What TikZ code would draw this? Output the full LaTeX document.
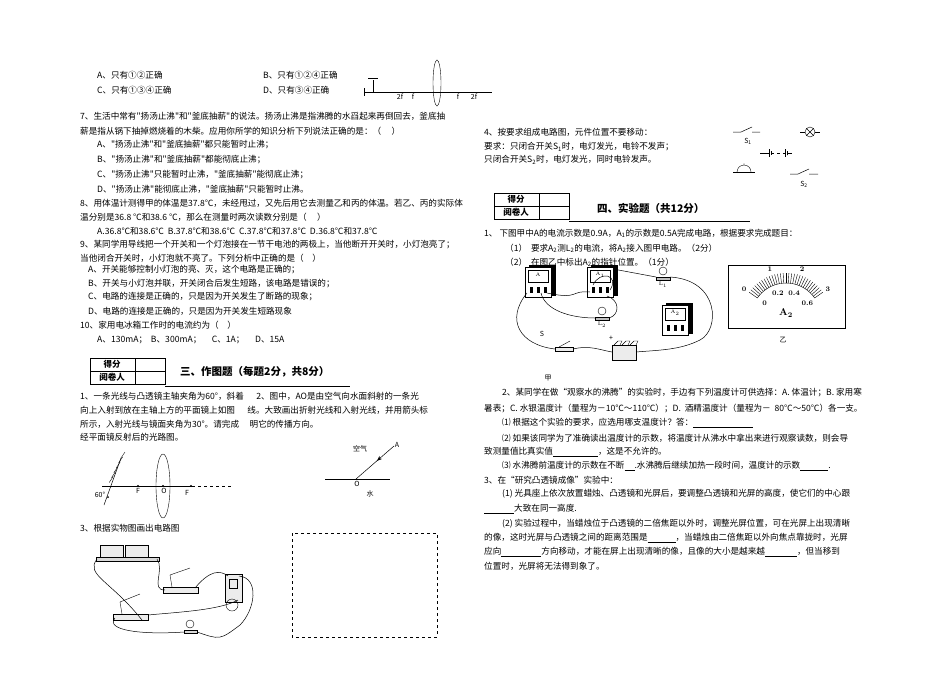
\documentclass[tikz,border=0pt]{standalone}
\usepackage{fontspec}
\newfontfamily\cjk{Noto Sans CJK SC}
\usetikzlibrary{arrows.meta,decorations.markings,calc}
\tikzset{
  txt/.style={anchor=west,inner sep=0pt,font=\cjk\fontsize{8.6}{10}\selectfont},
  head/.style={anchor=west,inner sep=0pt,font=\cjk\bfseries\fontsize{10.5}{12}\selectfont},
  small/.style={inner sep=0pt,font=\cjk\fontsize{7}{8}\selectfont},
  wire/.style={line width=0.5pt},
  meter/.style={draw,fill=gray!15,line width=0.6pt},
}
\newcommand{\scorebox}[2]{% table at (x,y)
  \draw (#1,#2) rectangle ++(75,26) (#1,#2+13) -- ++(75,0) (#1+45,#2) -- ++(0,26);
  \node[small,font=\cjk\bfseries\fontsize{8.5}{9}\selectfont] at (#1+22,#2+6.5) {得分};
  \node[small,font=\cjk\bfseries\fontsize{8.5}{9}\selectfont] at (#1+22,#2+19.5) {阅卷人};}
\begin{document}
\begin{tikzpicture}[x=1pt,y=-1pt]
\useasboundingbox (0,0) rectangle (950,675);

% left column text
\node[txt] (a6) at (97,75) {A、只有①②正确};
\node[txt] (b6) at (263,75) {B、只有①②④正确};
\node[txt] (c6) at (97,90) {C、只有①③④正确};
\node[txt] (d6) at (263,90) {D、只有③④正确};
\node[txt] (q7) at (80,116) {7、生活中常有"扬汤止沸"和"釜底抽薪"的说法。扬汤止沸是指沸腾的水舀起来再倒回去，釜底抽};
\node[txt] at (80,131) {薪是指从锅下抽掉燃烧着的木柴。应用你所学的知识分析下列说法正确的是：（\quad\ ）};
\node[txt] at (97,145) {A、"扬汤止沸"和"釜底抽薪"都只能暂时止沸；};
\node[txt] at (97,160) {B、"扬汤止沸"和"釜底抽薪"都能彻底止沸；};
\node[txt] at (97,175) {C、"扬汤止沸"只能暂时止沸，"釜底抽薪"能彻底止沸；};
\node[txt] at (97,189) {D、"扬汤止沸"能彻底止沸，"釜底抽薪"只能暂时止沸。};
\node[txt] at (80,203) {8、用体温计测得甲的体温是37.8℃，未经甩过，又先后用它去测量乙和丙的体温。若乙、丙的实际体};
\node[txt] at (80,217) {温分别是36.8 ℃和38.6 ℃，那么在测量时两次读数分别是（\quad\ ）};
\node[txt] at (97,231) {A.36.8℃和38.6℃\ \ B.37.8℃和38.6℃\ \ C.37.8℃和37.8℃\ \ D.36.8℃和37.8℃};
\node[txt] at (80,245) {9、某同学用导线把一个开关和一个灯泡接在一节干电池的两极上，当他断开开关时，小灯泡亮了；};
\node[txt] at (80,258) {当他闭合开关时，小灯泡就不亮了。下列分析中正确的是（\quad ）};
\node[txt] at (88,270) {A、开关能够控制小灯泡的亮、灭，这个电路是正确的；};
\node[txt] at (88,284) {B、开关与小灯泡并联，开关闭合后发生短路，该电路是错误的；};
\node[txt] at (88,297) {C、电路的连接是正确的，只是因为开关发生了断路的现象；};
\node[txt] at (88,311) {D、电路的连接是正确的，只是因为开关发生短路现象};
\node[txt] at (80,325) {10、家用电冰箱工作时的电流约为（\quad ）};
\node[txt] at (97,340) {A、130mA；\ \ B、300mA；\quad\ C、1A；\quad\ D、15A};

\scorebox{90}{358}
\node[head] (t3) at (180,372) {三、作图题（每题2分，共8分）};
\draw (165,386) -- (350,386);
\node[txt] at (80,396) {1、一条光线与凸透镜主轴夹角为60°，斜着\quad\ \ 2、图中，AO是由空气向水面斜射的一条光};
\node[txt] at (80,410) {向上入射到放在主轴上方的平面镜上如图\quad\ \ 线。大致画出折射光线和入射光线，并用箭头标};
\node[txt] at (80,424) {所示，入射光线与镜面夹角为30°。请完成\quad\ 明它的传播方向。};
\node[txt] at (80,437) {经平面镜反射后的光路图。};
\node[txt] at (80,528) {3、根据实物图画出电路图};

% lens figure at top
\draw[wire] (364,92) -- (492,92) (364,88) -- (364,96);
\draw (437,83) ellipse (4 and 23);
\draw (373,92) -- (373,80) (368,78) -- (378,78);
\foreach \x/\t in {400/2f,413/f,458/f,474/2f} \node[small] at (\x,97) {\t};

% optics 1
\draw[wire] (102,486) -- (192,486);
\draw[wire,dashed] (192,486) -- (232,486);
\draw (163,486) ellipse (7 and 32);
\node[small] (f1) at (138,491) {F};
\node[small] (f2) at (187,493) {F};
\node[small] (o1) at (164,491) {O};
\fill (138,486) circle (1.2) (191,486) circle (1.2) (163,486) circle (1.2);
\draw[wire] (104,505) -- (121,458);
\foreach \k in {0,...,5} \draw ($(121,458)!\k/5.5!(108,485)$) -- ++(4,-6);
\node[small] at (100,495) {60°};
\fill (108,497) circle (1);

% optics 2
\draw[wire] (325,479) -- (390,479);
\node[small] (o2) at (357,484) {O};
\node[small] (pa) at (397,445) {A};
\node[small] at (360,449) {空气};
\node[small] at (370,494) {水};
\draw[wire,postaction={decorate},decoration={markings,mark=at position 0.45 with {\arrow{Stealth}}}] (394,446) -- (356,479);

% answer box
\draw[dashed] (292,533) rectangle (437,637);

% real circuit 3
\draw[meter] (100,545) rectangle (123,557) (125,545) rectangle (148,557);
\draw[fill=gray!30] (96,557) rectangle (159,561);
\draw[meter] (163,587) rectangle (198,593);
\draw (172,587) -- (170,575) -- (190,568);
\draw[meter] (113,614) rectangle (148,620);
\draw (122,614) -- (120,602) -- (140,594);
\draw[meter] (225,574) rectangle (242,602);
\draw (229,579) rectangle (237,588);
\draw (232,605) circle (6);
\draw (190,624) circle (4);
\draw[fill=gray!30] (184,630) rectangle (197,633);
\draw[wire] (97,559) .. controls (85,575) and (110,580) .. (142,620);
\draw[wire] (157,559) .. controls (165,570) and (150,590) .. (165,590);
\draw[wire] (195,588) .. controls (210,570) and (220,570) .. (228,576);
\draw[wire] (239,576) .. controls (260,578) and (255,610) .. (240,625) .. controls (220,640) .. (197,632);
\draw[wire] (148,615) .. controls (180,612) and (220,610) .. (238,600);
\draw[wire] (115,618) .. controls (105,630) and (140,635) .. (184,632);

% right column
\node[txt] at (484,132) {4、按要求组成电路图，元件位置不要移动：};
\node[txt] at (484,147) {要求：只闭合开关S\textsubscript{1}时，电灯发光，电铃不发声；};
\node[txt] at (484,160) {只闭合开关S\textsubscript{2}时，电灯发光，同时电铃发声。};
% symbols
\draw[wire] (733,132) -- (741,132) -- (752,127) (752,132) -- (760,132);
\node[small] (s1) at (748,141) {S\textsubscript{1}};
\draw[wire] (800,132) -- (805,132) (815,132) -- (820,132);
\draw (810,132) circle (5) (806.5,128.5) -- (813.5,135.5) (806.5,135.5) -- (813.5,128.5);
\draw[wire] (760,153) -- (769,153) (769,149) -- (769,157) (771,151) -- (771,155);
\draw[wire,dashed] (771,153) -- (785,153);
\draw[wire] (785,149) -- (785,157) (787,151) -- (787,155) -- (787,153) -- (792,153);
\draw[wire] (733,172) -- (755,172);
\draw (737,172) arc (180:360:7) (744,165) -- (744,163);
\draw[wire] (790,174) -- (798,174) -- (809,169) (809,174) -- (818,174);
\node[small] (s2) at (804,184) {S\textsubscript{2}};

\scorebox{494}{193}
\node[head] (t4) at (597,208) {四、实验题（共12分）};
\draw (569,221) -- (750,221);
\node[txt] at (484,233) {1、\ 下图甲中A的电流示数是0.9A，A\textsubscript{1}的示数是0.5A完成电路，根据要求完成题目：};
\node[txt] at (505,248) {（1）\ \ 要求A\textsubscript{2}测L\textsubscript{2}的电流，将A\textsubscript{2}接入图甲电路。（2分）};
\node[txt] at (505,262) {（2）\ \ 在图乙中标出A\textsubscript{2}的指针位置。（1分）};

% real circuit 1
\foreach \x/\y/\n/\lab in {525/267/ma/A, 587/267/mb/A\textsubscript{1}, 662/305/mc/A\textsubscript{2}} {
  \draw[fill=black] (\x+4,\y-2) rectangle (\x+30,\y+28);
  \draw[meter,fill=white] (\x,\y) rectangle (\x+26,\y+30);
  \draw (\x+3,\y+3) rectangle (\x+23,\y+15);
  \node[small,font=\fontsize{5}{6}\selectfont] (\n) at (\x+13,\y+8) {\lab};
  \foreach \d in {6,13,20} \fill (\x+\d-1.5,\y+20) rectangle (\x+\d+1.5,\y+26);
}
\foreach \x/\y/\n/\lab in {663/277/la/L\textsubscript{1}, 602/317/lb/L\textsubscript{2}} {
  \draw (\x,\y-6) circle (4);
  \draw[fill=gray!50] (\x-7,\y) rectangle (\x+7,\y+3);
  \node[small,font=\fontsize{5}{6}\selectfont] (\n) at (\x,\y+8) {\lab};
}
\draw[meter] (555,347) rectangle (573,351);
\draw (559,347) -- (570,341);
\node[small] (sw) at (542,334) {S};
\draw[meter] (612,345) rectangle (636,360);
\foreach \d in {0,8,16} \draw (614+\d,345) -- (618+\d,341) -- (622+\d,341) -- (620+\d,345);
\node[small] (pl) at (611,338) {+};
\node[small] (jia) at (548,378) {甲};
\draw[wire] (547,293) .. controls (580,300) and (570,290) .. (590,292);
\draw[wire] (593,285) .. controls (600,270) and (620,275) .. (610,290);
\draw[wire] (613,269) -- (656,277);
\draw[wire] (670,277) .. controls (720,280) and (720,330) .. (700,340) .. controls (680,350) and (660,350) .. (636,352);
\draw[wire] (541,293) .. controls (545,310) and (570,318) .. (595,318);
\draw[wire] (609,318) .. controls (620,315) and (620,300) .. (607,296);
\draw[wire] (527,293) .. controls (505,320) and (520,345) .. (555,349);
\draw[wire] (573,349) .. controls (590,345) and (600,350) .. (612,352);
% meter 乙
\draw[line width=0.8pt] (728,265) rectangle (845,328);
\foreach \a in {0,...,30} \draw ({786+45*cos(145-\a*110/30)},{318-45*sin(145-\a*110/30)}) -- ({786+35*cos(145-\a*110/30)},{318-35*sin(145-\a*110/30)});
\draw ({786+35*cos(145)},{318-35*sin(145)}) arc[start angle=-145,end angle=-35,radius=35];
\foreach \v/\a in {0/145,1/108.3,2/71.7,3/35} \node[small,font=\bfseries\fontsize{7}{8}\selectfont] at ({786+51*cos(\a)},{318-51*sin(\a)}) {\v};
\foreach \v/\a in {0/145,0.2/108.3,0.4/71.7,0.6/35} \node[small,font=\bfseries\fontsize{7}{8}\selectfont] at ({786+26*cos(\a)},{318-26*sin(\a)}) {\v};
\node[small,font=\bfseries\fontsize{10}{11}\selectfont] (a2) at (786,313) {A\textsubscript{2}};
\node[small] (yi) at (783,340) {乙};

\node[txt] at (502,393) {2、某同学在做“观察水的沸腾”的实验时，手边有下列温度计可供选择：A. 体温计；B. 家用寒};
\node[txt] at (484,409) {暑表；C. 水银温度计（量程为－10℃～110℃）；D.\ \ 酒精温度计（量程为－\ \ 80℃～50℃）各一支。};
\node[txt] at (502,423) {⑴ 根据这个实验的要求，应选用哪支温度计？答：\underline{\hspace{60pt}}};
\node[txt] at (502,438) {⑵ 如果该同学为了准确读出温度计的示数，将温度计从沸水中拿出来进行观察读数，则会导};
\node[txt] at (484,452) {致测量值比真实值\underline{\hspace{45pt}}，这是不允许的。};
\node[txt] at (502,466) {⑶ 水沸腾前温度计的示数在不断\underline{\hspace{10pt}}.水沸腾后继续加热一段时间，温度计的示数\underline{\hspace{28pt}}.};
\node[txt] at (484,480) {3、在“研究凸透镜成像”实验中：};
\node[txt] at (502,494) {(1) 光具座上依次放置蜡烛、凸透镜和光屏后，要调整凸透镜和光屏的高度，使它们的中心跟};
\node[txt] at (484,509) {\underline{\hspace{30pt}}大致在同一高度.};
\node[txt] at (502,524) {(2) 实验过程中，当蜡烛位于凸透镜的二倍焦距以外时，调整光屏位置，可在光屏上出现清晰};
\node[txt] at (484,538) {的像，这时光屏与凸透镜之间的距离范围是\underline{\hspace{28pt}}，当蜡烛由二倍焦距以外向焦点靠拢时，光屏};
\node[txt] at (484,552) {应向\underline{\hspace{40pt}}方向移动，才能在屏上出现清晰的像，且像的大小是越来越\underline{\hspace{32pt}}，但当移到};
\node[txt] at (484,566) {位置时，光屏将无法得到象了。};
\end{tikzpicture}
\end{document}
